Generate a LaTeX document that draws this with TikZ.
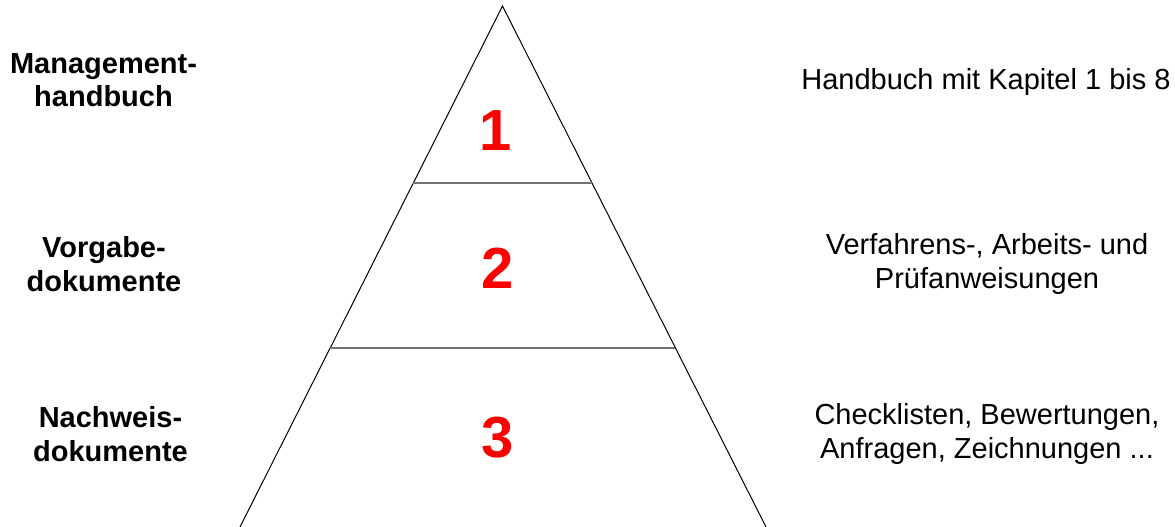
\documentclass[tikz,border=0pt]{standalone}
\usepackage{fontspec}
\setmainfont{Liberation Sans}
\usetikzlibrary{positioning, calc}

\begin{document}
\begin{tikzpicture}[
    x=1pt, y=-1pt,
    side/.style={draw=black, line width=1pt},
    level/.style={draw=black!55, line width=1.8pt},
    num/.style={font=\fontsize{58}{60}\selectfont\bfseries, text=red, inner sep=0pt},
    tier/.style={font=\fontsize{29}{33.5}\selectfont\bfseries, align=center, inner sep=0pt},
    desc/.style={font=\fontsize{29}{33.5}\selectfont, align=center, inner sep=0pt}
]
\useasboundingbox (0,0) rectangle (1175,527);

% Pyramid
\coordinate (apex) at (502.5,6);
\coordinate (bl) at (240,527);
\coordinate (br) at (766,527);
\draw[side] (bl) -- (apex) -- (br);

% Levels
\coordinate (l1a) at ($(apex)!0.3397!(bl)$);
\coordinate (l1b) at ($(apex)!0.3397!(br)$);
\coordinate (l2a) at ($(apex)!0.6564!(bl)$);
\coordinate (l2b) at ($(apex)!0.6564!(br)$);
\draw[level] (l1a) -- (l1b);
\draw[level] (l2a) -- (l2b);

% Numbers
\node[num] (n1) at (496,131) {1};
\node[num] (n2) at (498,268) {2};
\node[num] (n3) at (498,438) {3};

% Left labels
\node[tier] (mhb) at (103.5,80) {Management-\\handbuch};
\node[tier] (vd) at (104,264) {Vorgabe-\\dokumente};
\node[tier] (nd) at (110.5,434) {Nachweis-\\dokumente};

% Right descriptions
\node[desc] (d1) at (986,82) {Handbuch mit Kapitel 1 bis 8};
\node[desc] (d2) at (987,264) {Verfahrens-, Arbeits- und\\Prüfanweisungen};
\node[desc] (d3) at (987,434) {Checklisten, Bewertungen,\\Anfragen, Zeichnungen ...};

\end{tikzpicture}
\end{document}
